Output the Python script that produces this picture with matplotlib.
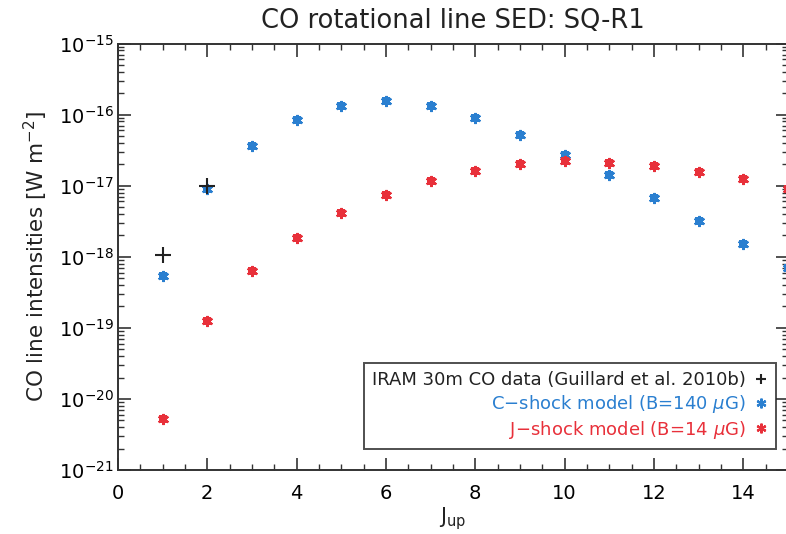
import matplotlib
matplotlib.use("Agg")
import matplotlib.pyplot as plt
from matplotlib.ticker import FixedLocator, MultipleLocator, NullFormatter
import numpy as np

J = [1, 2, 3, 4, 5, 6, 7, 8, 9, 10, 11, 12, 13, 14, 15]
c_shock = [5.4e-19, 8.9e-18, 3.6e-17, 8.3e-17, 1.3e-16, 1.55e-16, 1.3e-16, 8.9e-17,
           5.1e-17, 2.7e-17, 1.4e-17, 6.8e-18, 3.2e-18, 1.5e-18, 6.9e-19]
j_shock = [5.2e-21, 1.23e-19, 6.4e-19, 1.86e-18, 4.1e-18, 7.4e-18, 1.17e-17, 1.6e-17,
           2.0e-17, 2.2e-17, 2.1e-17, 1.9e-17, 1.56e-17, 1.23e-17, 8.9e-18]
J_iram = [1, 2]
iram = [1.05e-18, 1.0e-17]

labels = ["IRAM 30m CO data (Guillard et al. 2010b)",
          r"C$-$shock model (B=140 $\mu$G)",
          r"J$-$shock model (B=14 $\mu$G)"]

blue = "#2a7fd0"
red = "#e8303a"

fig = plt.figure(figsize=(7.86, 5.34), dpi=100)
ax = fig.add_axes([0.150, 0.1199, 0.8525, 0.7986])

ms = 6
h1, = ax.plot(J_iram, iram, ls="none", marker="+", ms=12, mew=1.5, color="#222222", zorder=4)
ax.plot(J, c_shock, ls="none", marker="s", ms=ms, color=blue, mew=0, zorder=3)
h2, = ax.plot(J, c_shock, ls="none", marker=(6, 2, 0), ms=8, mew=1.6, color=blue, zorder=3)
ax.plot(J, j_shock, ls="none", marker="s", ms=ms, color=red, mew=0, zorder=3)
h3, = ax.plot(J, j_shock, ls="none", marker=(6, 2, 0), ms=8, mew=1.6, color=red, zorder=3)

ax.set_yscale("log")
ax.set_xlim(0, 15)
ax.set_ylim(1e-21, 1e-15)
ax.xaxis.set_major_locator(MultipleLocator(2))
ax.xaxis.set_minor_locator(MultipleLocator(0.5))
majors = [10.0 ** e for e in range(-21, -14)]
minors = [m * 10.0 ** e for e in range(-21, -15) for m in range(2, 10)]
ax.yaxis.set_major_locator(FixedLocator(majors))
ax.yaxis.set_minor_locator(FixedLocator(minors))
ax.yaxis.set_minor_formatter(NullFormatter())
ax.tick_params(which="both", direction="in", top=True, right=True, labelsize=14, color="#333333")
ax.tick_params(which="major", length=9, width=1.2)
ax.tick_params(which="minor", length=4, width=1.0)
ax.tick_params(axis="x", pad=10)
ax.tick_params(axis="y", pad=3)
for s in ax.spines.values():
    s.set_linewidth(1.4)
    s.set_color("#333333")

ax.set_title("CO rotational line SED: SQ-R1", fontsize=18.5, pad=11, color="#222222")
ax.set_xlabel(r"J$_{\mathrm{up}}$", fontsize=15, color="#222222", labelpad=2)
ax.set_ylabel(r"CO line intensities [W m$^{-2}$]", fontsize=15.5, color="#222222", labelpad=6)

leg = ax.legend([h1, h2, h3], labels, loc="lower right", bbox_to_anchor=(0.982, 0.05),
                markerfirst=False, fontsize=13, frameon=True, fancybox=False,
                handlelength=0.7, handletextpad=0.5, borderpad=0.45, labelspacing=0.2,
                borderaxespad=0, edgecolor="#222222")
leg.get_frame().set_linewidth(1.4)
for t, c in zip(leg.get_texts(), ["#222222", blue, red]):
    t.set_color(c)
leg._legend_box.align = "right"
for line in leg.get_lines():
    line.set_markersize(7)

fig.savefig("out.png", dpi=100)
